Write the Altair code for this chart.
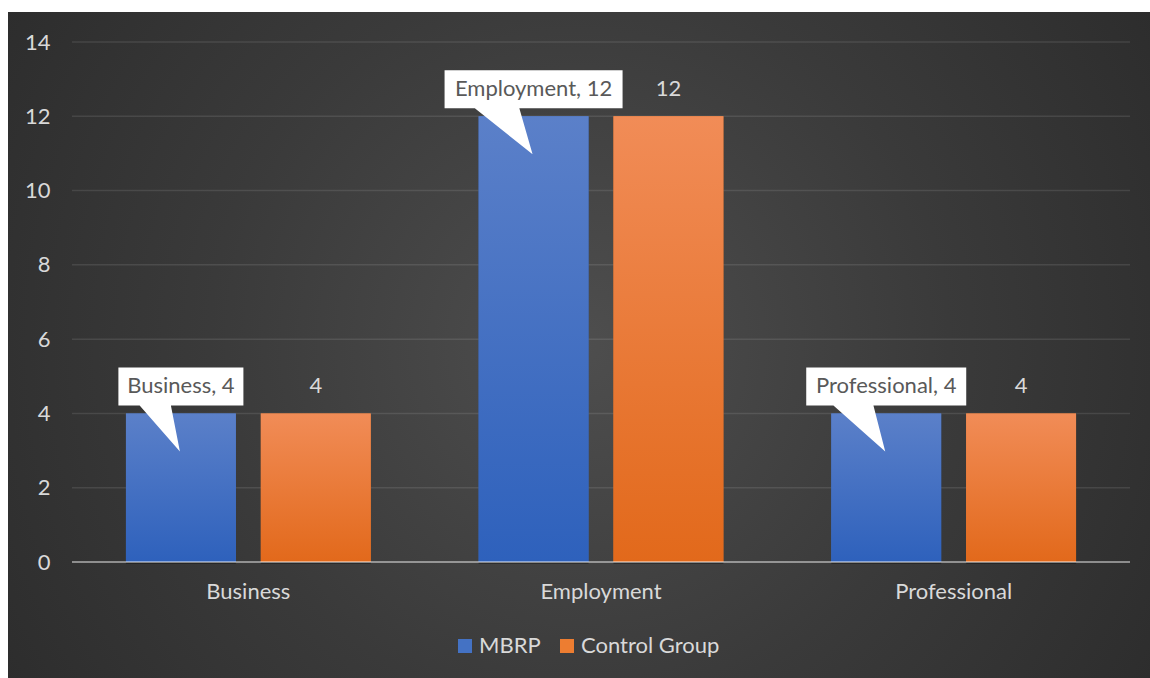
import altair as alt
import pandas as pd

# ---- data ----
categories = ["Business", "Employment", "Professional"]
series = ["MBRP", "Control Group"]
mbrp_values = [4, 12, 4]
control_values = [4, 12, 4]
y_ticks = [0, 2, 4, 6, 8, 10, 12, 14]

# ---- styles ----
FONT = "Lato"
TXT = "#d9d9d9"
BLUE_TOP, BLUE_BOT = "#5b80c9", "#2e61bc"
ORNG_TOP, ORNG_BOT = "#f18c57", "#e2691b"
W, H = 1058, 520
CALLOUT_BOX_W = {"Business": 125, "Employment": 178, "Professional": 160}

rows = []
for c, m, k in zip(categories, mbrp_values, control_values):
    rows.append({"cat": c, "series": "MBRP", "value": m})
    rows.append({"cat": c, "series": "Control Group", "value": k})
df = pd.DataFrame(rows)


def callout_path(w):
    l, r = -w / 2, w / 2
    a, b = l + 0.17 * w, l + 0.42 * w
    return f"M{l},-46L{r},-46L{r},-8L{b},-8L-1,38L{a},-8L{l},-8Z"


df["label"] = df["cat"] + ", " + df["value"].astype(str)
df["path"] = df["cat"].map(lambda c: callout_path(CALLOUT_BOX_W[c]))

x_enc = alt.X("cat:N", scale=alt.Scale(domain=categories, paddingInner=0, paddingOuter=0),
              axis=alt.Axis(title=None, ticks=False, domain=False, labelAngle=0, zindex=1,
                            labelFont=FONT, labelFontSize=22, labelColor=TXT,
                            labelPadding=19))
xo_enc = alt.XOffset("series:N", scale=alt.Scale(domain=series, paddingInner=0.185, paddingOuter=0.4))
y_scale = alt.Scale(domain=[0, 14], nice=False)
y_enc = alt.Y("value:Q", scale=y_scale,
              axis=alt.Axis(title=None, ticks=False, domain=False, grid=False, zindex=1,
                            values=y_ticks, labelFont=FONT, labelFontSize=22,
                            labelColor=TXT, labelPadding=22))

one = pd.DataFrame({"z": [0]})

bg = alt.Chart(one).mark_rect(
    clip=False,
    fill=alt.RadialGradient(gradient="radial",
                            stops=[alt.GradientStop(color="#4e4e4e", offset=0),
                                   alt.GradientStop(color="#3a3a3a", offset=0.45),
                                   alt.GradientStop(color="#262626", offset=1)],
                            x1=0.5, y1=0.5, r1=0, x2=0.5, y2=0.5, r2=0.72),
).encode(x=alt.value(-64), x2=alt.value(W + 20), y=alt.value(-30), y2=alt.value(H + 116))

grid = alt.Chart(pd.DataFrame({"t": y_ticks[1:]})).mark_rule(
    color="#ffffff", opacity=0.1, strokeWidth=1.5
).encode(y=alt.Y("t:Q", scale=y_scale), x=alt.value(0), x2=alt.value(W))

shadow = alt.Chart(df).mark_bar(color="#000000", opacity=0.3, xOffset=3, yOffset=2).encode(
    x=x_enc, xOffset=xo_enc, y=y_enc)

bars = alt.Chart(df).mark_bar().encode(
    x=x_enc, xOffset=xo_enc, y=y_enc,
    color=alt.Color("series:N", scale=alt.Scale(domain=series, range=["#4472c4", "#ed7d31"]),
                    legend=alt.Legend(title=None, orient="none", direction="horizontal",
                                      legendX=382, legendY=593, padding=0,
                                      symbolType="square", symbolSize=196,
                                      symbolStrokeWidth=0, labelFont=FONT,
                                      labelFontSize=22, labelColor=TXT,
                                      labelOffset=3, columnPadding=15)))

blue = alt.Chart(df).transform_filter(alt.datum.series == "MBRP").mark_bar(
    fill=alt.LinearGradient(gradient="linear",
                            stops=[alt.GradientStop(color=BLUE_TOP, offset=0),
                                   alt.GradientStop(color=BLUE_BOT, offset=1)],
                            x1=0, x2=0, y1=0, y2=1)
).encode(x=x_enc, xOffset=xo_enc, y=y_enc)

orange = alt.Chart(df).transform_filter(alt.datum.series == "Control Group").mark_bar(
    fill=alt.LinearGradient(gradient="linear",
                            stops=[alt.GradientStop(color=ORNG_TOP, offset=0),
                                   alt.GradientStop(color=ORNG_BOT, offset=1)],
                            x1=0, x2=0, y1=0, y2=1)
).encode(x=x_enc, xOffset=xo_enc, y=y_enc)

baseline = alt.Chart(one).mark_rule(color="#ffffff", opacity=0.45, strokeWidth=2).encode(
    y=alt.Y("z:Q", scale=y_scale), x=alt.value(0), x2=alt.value(W))

callout = alt.Chart(df).transform_filter(alt.datum.series == "MBRP").mark_point(
    filled=True, fill="#ffffff", opacity=1, strokeWidth=0
).encode(x=x_enc, xOffset=xo_enc, y=y_enc,
         shape=alt.Shape("path:N", scale=None), size=alt.value(4))

callout_text = alt.Chart(df).transform_filter(alt.datum.series == "MBRP").mark_text(
    font=FONT, fontSize=22, color="#595959", dy=-27, baseline="middle"
).encode(x=x_enc, xOffset=xo_enc, y=y_enc, text="label:N")

ctrl_text = alt.Chart(df).transform_filter(alt.datum.series == "Control Group").mark_text(
    font=FONT, fontSize=22, color=TXT, dy=-27, baseline="middle"
).encode(x=x_enc, xOffset=xo_enc, y=y_enc, text="value:Q")

chart = alt.layer(bg, grid, shadow, bars, blue, orange, baseline, callout, callout_text, ctrl_text).properties(
    width=W, height=H,
    autosize=alt.AutoSizeParams(type="none"),
    padding={"left": 72, "top": 42, "right": 20, "bottom": 116},
).configure(background="#ffffff").configure_view(stroke=None)

chart.save("out.html", embed_options={"renderer": "svg", "actions": False})
